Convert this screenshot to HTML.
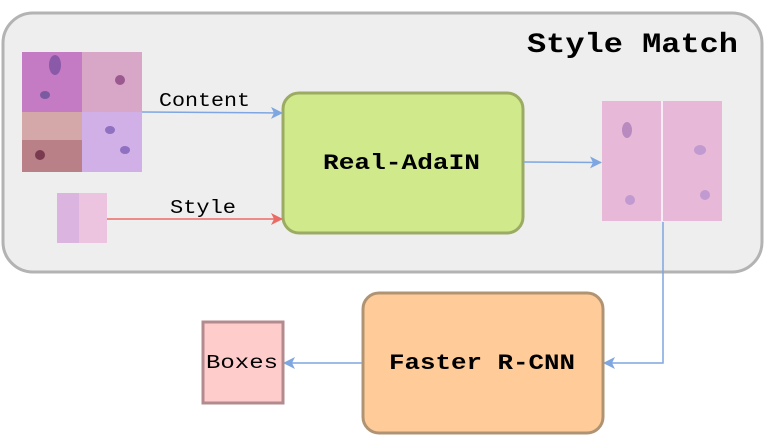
<!DOCTYPE html>
<html><head><style>body{margin:0;background:#fff}svg{display:block}text{font-family:"Liberation Mono",monospace}</style></head><body>
<svg width="764" height="436" viewBox="0 0 764 436" xmlns="http://www.w3.org/2000/svg">
<defs>
<marker id="ab" markerWidth="12" markerHeight="12" refX="11" refY="6" orient="auto" markerUnits="userSpaceOnUse"><path d="M0,0 L12,6 L0,12 L3,6z" fill="#7ea6e0"/></marker>
<marker id="ar" markerWidth="12" markerHeight="12" refX="11" refY="6" orient="auto" markerUnits="userSpaceOnUse"><path d="M0,0 L12,6 L0,12 L3,6z" fill="#ea6b66"/></marker>
</defs>
<rect x="3" y="13" width="759" height="259" rx="30" fill="#eeeeee" stroke="#b3b3b3" stroke-width="3"/>
<text x="527" y="52" font-size="28" font-weight="bold" textLength="211" lengthAdjust="spacingAndGlyphs">Style Match</text>
<rect x="22" y="52" width="60" height="60" fill="#c57ac4"/>
<rect x="82" y="52" width="60" height="60" fill="#d8a6c6"/>
<rect x="22" y="112" width="60" height="60" fill="#d4a8a8"/>
<rect x="22" y="140" width="60" height="32" fill="#b98088"/>
<rect x="82" y="112" width="60" height="60" fill="#d0b0e6"/>
<ellipse cx="55" cy="65" rx="6" ry="10" fill="#8a5aa8"/><ellipse cx="45" cy="95" rx="5" ry="4" fill="#7a5aa0"/>
<ellipse cx="110" cy="130" rx="5" ry="4" fill="#9070c0"/><ellipse cx="125" cy="150" rx="5" ry="4" fill="#9070c0"/>
<ellipse cx="40" cy="155" rx="5" ry="5" fill="#7a3a50"/><ellipse cx="120" cy="80" rx="5" ry="5" fill="#9a5a90"/>
<rect x="57" y="193" width="50" height="50" fill="#ecc4e0"/>
<rect x="57" y="193" width="22" height="50" fill="#dcb4e0"/>
<rect x="602" y="101" width="120" height="120" fill="#e8b8d8"/>
<ellipse cx="627" cy="130" rx="5" ry="8" fill="#b88ac0"/><ellipse cx="700" cy="150" rx="6" ry="5" fill="#c09ad0"/>
<ellipse cx="630" cy="200" rx="5" ry="5" fill="#c09ad0"/><ellipse cx="705" cy="195" rx="5" ry="5" fill="#c09ad0"/>
<line x1="662" y1="101" x2="662" y2="221" stroke="#fff" stroke-width="1.5"/>
<rect x="283" y="93" width="240" height="140" rx="16" fill="#cfe98b" stroke="#9bab63" stroke-width="3"/>
<text x="323" y="169" font-size="22" font-weight="bold" textLength="157" lengthAdjust="spacingAndGlyphs">Real-AdaIN</text>
<line x1="142" y1="112" x2="282" y2="113" stroke="#7ea6e0" stroke-width="1.5" marker-end="url(#ab)"/>
<text x="159" y="106" font-size="19" textLength="91" lengthAdjust="spacingAndGlyphs">Content</text>
<line x1="107" y1="219" x2="282" y2="219" stroke="#ea6b66" stroke-width="1.5" marker-end="url(#ar)"/>
<text x="170" y="213" font-size="19" textLength="66" lengthAdjust="spacingAndGlyphs">Style</text>
<line x1="524" y1="162" x2="601" y2="162.5" stroke="#7ea6e0" stroke-width="1.5" marker-end="url(#ab)"/>
<polyline points="663,222 663,363 604,363" fill="none" stroke="#7ea6e0" stroke-width="1.5" marker-end="url(#ab)"/>
<rect x="363" y="293" width="240" height="140" rx="16" fill="#ffcc99" stroke="#b09373" stroke-width="3"/>
<text x="389" y="369" font-size="22" font-weight="bold" textLength="186" lengthAdjust="spacingAndGlyphs">Faster R-CNN</text>
<line x1="362" y1="363" x2="284" y2="363" stroke="#7ea6e0" stroke-width="1.5" marker-end="url(#ab)"/>
<rect x="203" y="322" width="80" height="81" fill="#ffcccc" stroke="#b38a8e" stroke-width="3"/>
<text x="206" y="368" font-size="19" textLength="72" lengthAdjust="spacingAndGlyphs">Boxes</text>
</svg>
</body></html>
